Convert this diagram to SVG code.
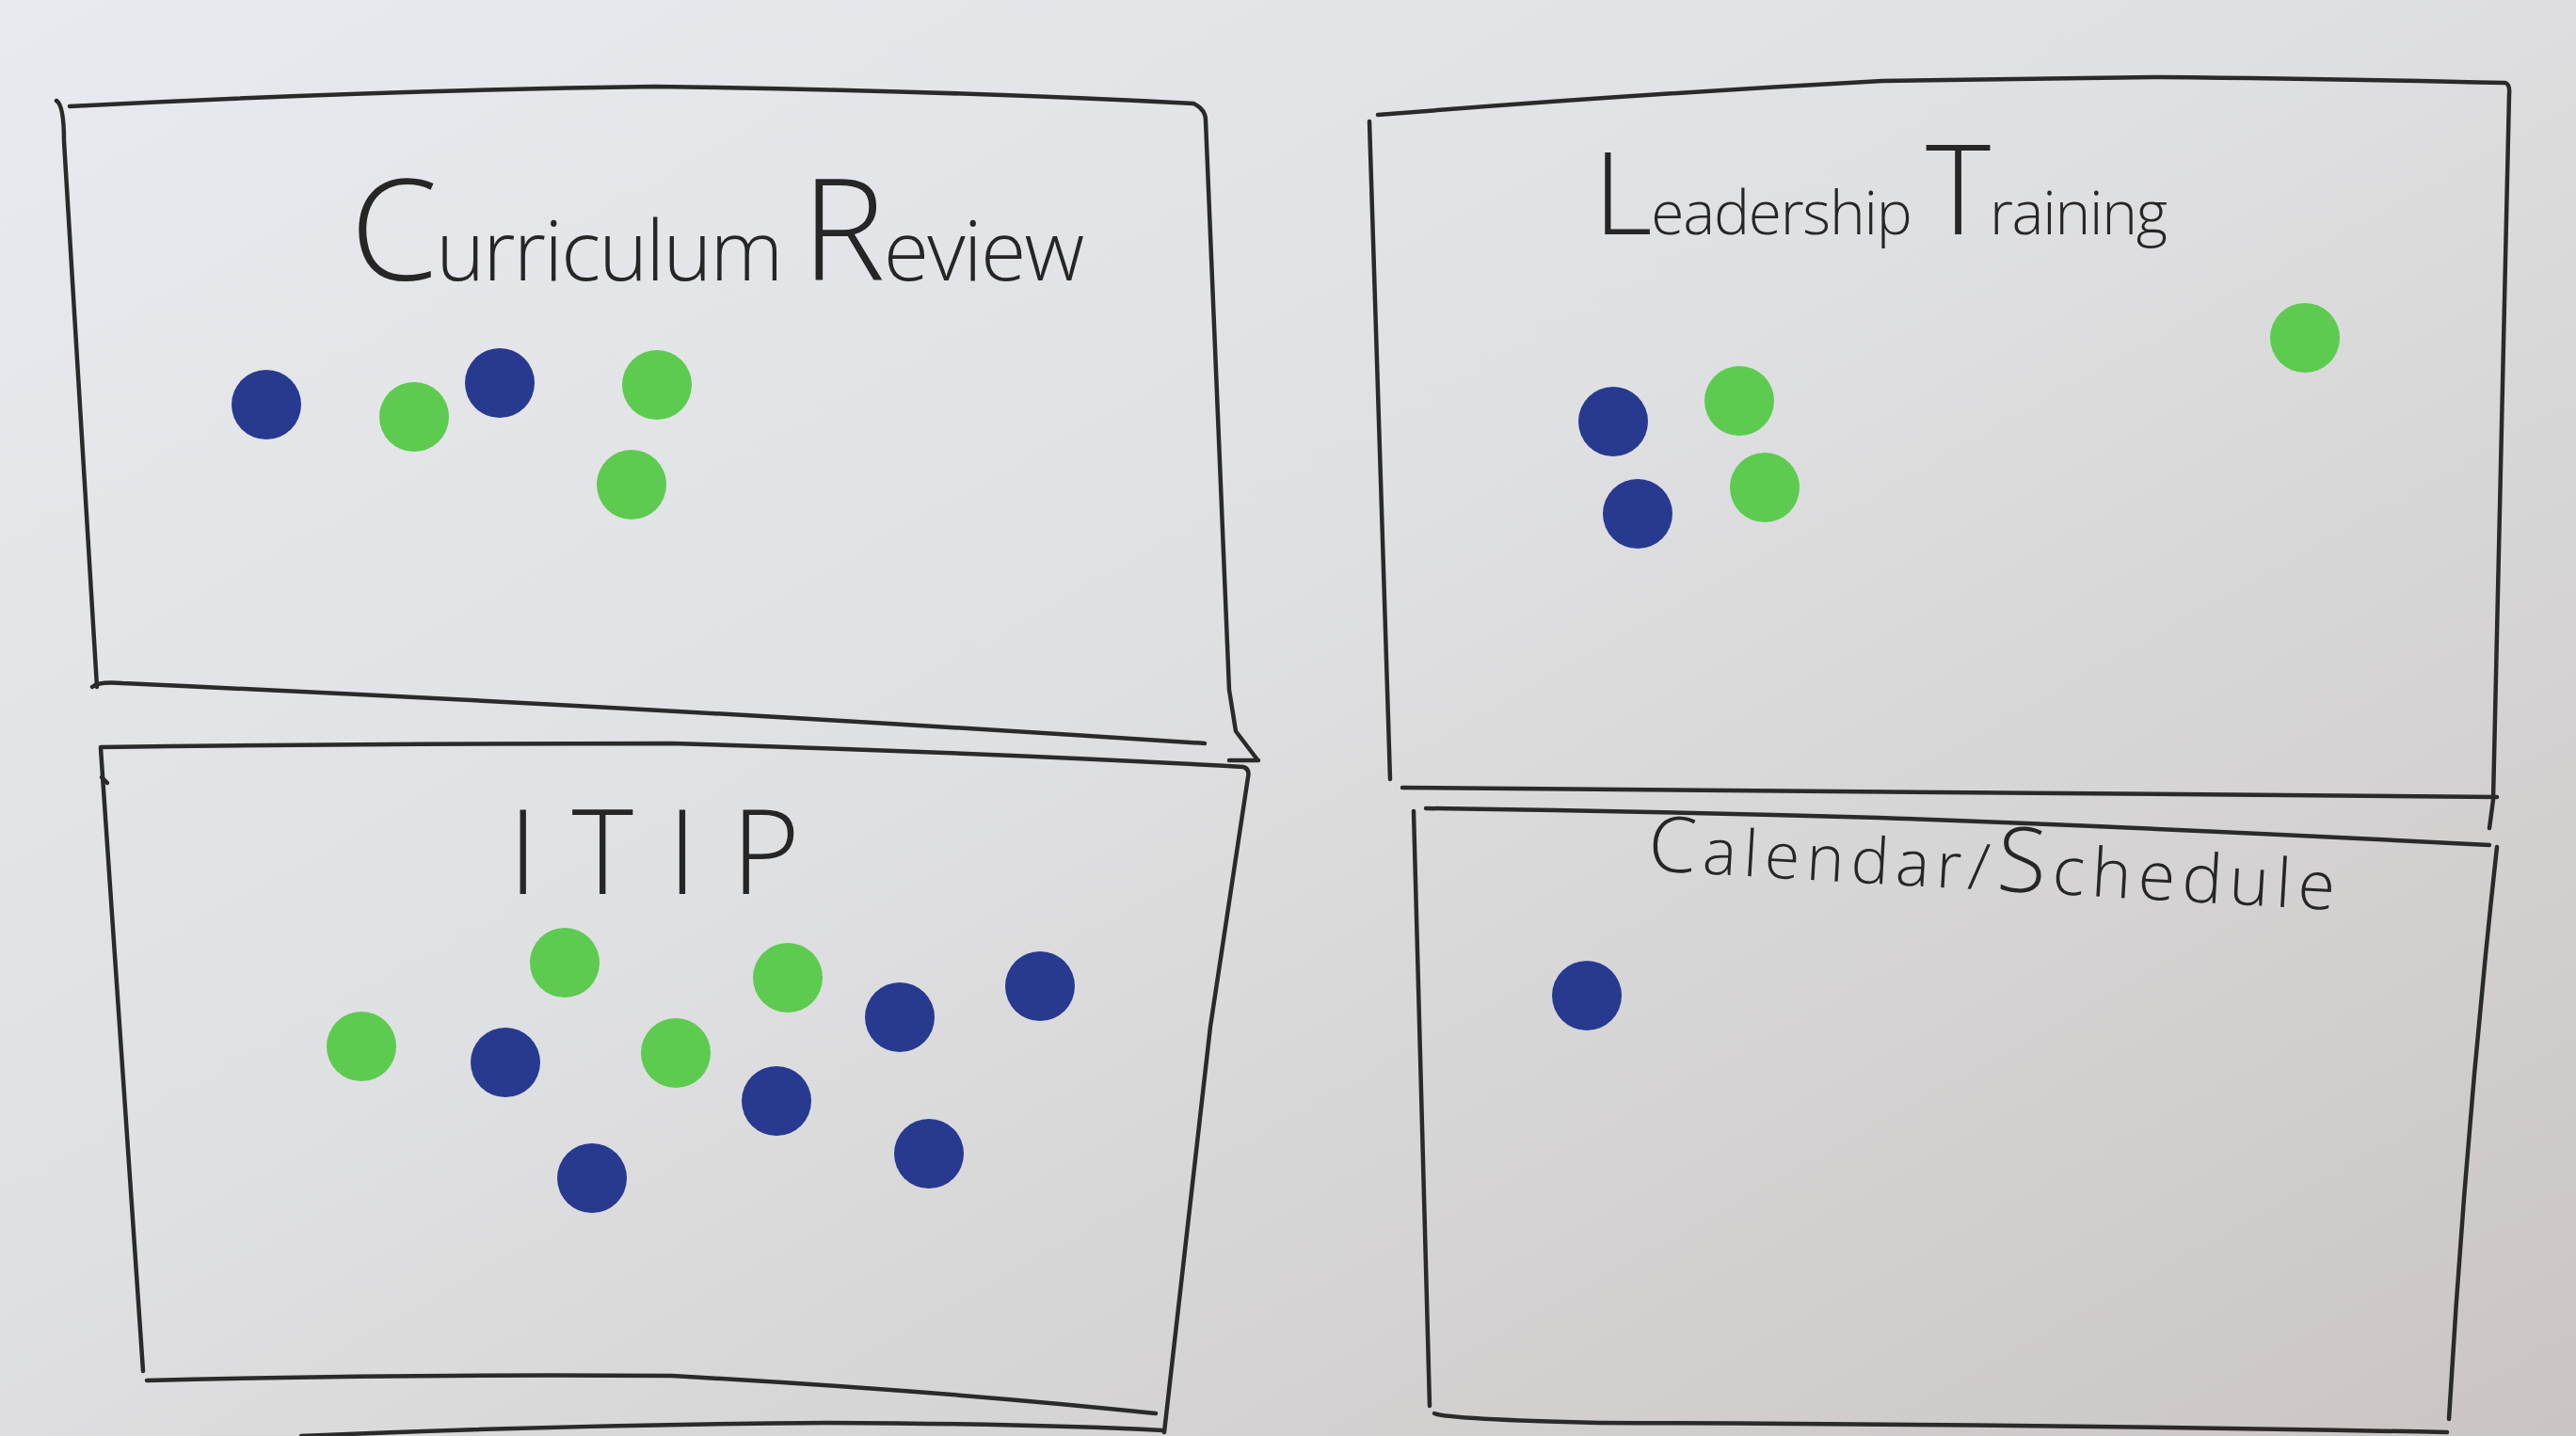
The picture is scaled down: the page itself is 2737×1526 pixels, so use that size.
<svg xmlns="http://www.w3.org/2000/svg" width="2737" height="1526" viewBox="0 0 2737 1526">
  <defs>
    <linearGradient id="paper" x1="0" y1="0" x2="1" y2="1">
      <stop offset="0" stop-color="#e8eaef"/>
      <stop offset="0.45" stop-color="#dfe0e2"/>
      <stop offset="1" stop-color="#cac5c3"/>
    </linearGradient>
    <style>
      .pen { fill: none; stroke: #2a2a2a; stroke-width: 4.5; stroke-linecap: round; stroke-linejoin: round; }
      .hand { font-family: "Open Sans", "Liberation Sans", sans-serif; font-weight: 300; fill: #262626; }
      .blue { fill: #283a8f; }
      .green { fill: #5ccb4f; }
    </style>
  </defs>

  <!-- flip-chart paper -->
  <rect x="0" y="0" width="2737" height="1526" fill="url(#paper)"/>

  <!-- panel: Curriculum Review -->
  <g id="curriculum-review">
    <path class="pen" d="M60 107 Q68 112 68 150 L103 730"/>
    <path class="pen" d="M74 113 Q400 96 696 92 Q1000 96 1268 110 Q1281 116 1281 128 L1306 733 L1313 777 L1335 806"/>
    <path class="pen" d="M1306 808 L1337 808"/>
    <path class="pen" d="M98 730 Q104 724 130 726 Q700 752 1280 790"/>
    <text class="hand" x="372" y="298" textLength="780" lengthAdjust="spacing"><tspan font-size="150">C</tspan><tspan font-size="88">urriculum </tspan><tspan font-size="150">R</tspan><tspan font-size="88">eview</tspan></text>
    <circle class="blue" cx="283" cy="430" r="37"/>
    <circle class="green" cx="440" cy="443" r="37"/>
    <circle class="blue" cx="531" cy="407" r="37"/>
    <circle class="green" cx="698" cy="409" r="37"/>
    <circle class="green" cx="671" cy="515" r="37"/>
  </g>

  <!-- panel: Leadership Training -->
  <g id="leadership-training">
    <path class="pen" d="M1464 122 Q1740 100 2000 86 L2295 82 Q2500 84 2662 88 Q2667 90 2666 100 L2649 850 L2645 880"/>
    <path class="pen" d="M1455 129 L1477 828"/>
    <path class="pen" d="M1490 837 Q2000 842 2653 847"/>
    <text class="hand" x="1693" y="249" textLength="610" lengthAdjust="spacing"><tspan font-size="122">L</tspan><tspan font-size="64">eadership </tspan><tspan font-size="132">T</tspan><tspan font-size="64">raining</tspan></text>
    <circle class="green" cx="2449" cy="359" r="37"/>
    <circle class="blue" cx="1714" cy="448" r="37"/>
    <circle class="green" cx="1848" cy="426" r="37"/>
    <circle class="green" cx="1875" cy="518" r="37"/>
    <circle class="blue" cx="1740" cy="546" r="37"/>
  </g>

  <!-- panel: ITIP -->
  <g id="itip">
    <path class="pen" d="M107 794 Q400 790 714 790 Q1050 800 1321 815 Q1328 817 1326 826 Q1300 1000 1286 1091 L1237 1522"/>
    <path class="pen" d="M107 795 L152 1457"/>
    <path class="pen" d="M108 826 L114 832"/>
    <path class="pen" d="M156 1467 Q420 1460 714 1462 Q1000 1478 1228 1502"/>
    <path class="pen" d="M320 1526 Q600 1514 880 1512 Q1100 1513 1235 1520"/>
    <text class="hand" x="540" y="950" font-size="125" textLength="310" lengthAdjust="spacing">ITIP</text>
    <circle class="green" cx="600" cy="1023" r="37"/>
    <circle class="green" cx="837" cy="1039" r="37"/>
    <circle class="blue" cx="1105" cy="1048" r="37"/>
    <circle class="blue" cx="956" cy="1081" r="37"/>
    <circle class="green" cx="384" cy="1112" r="37"/>
    <circle class="blue" cx="537" cy="1129" r="37"/>
    <circle class="green" cx="718" cy="1119" r="37"/>
    <circle class="blue" cx="825" cy="1170" r="37"/>
    <circle class="blue" cx="987" cy="1226" r="37"/>
    <circle class="blue" cx="629" cy="1252" r="37"/>
  </g>

  <!-- panel: Calendar/Schedule -->
  <g id="calendar-schedule">
    <path class="pen" d="M1515 859 Q1760 862 1997 869 Q2300 880 2645 898"/>
    <path class="pen" d="M1502 862 L1519 1494"/>
    <path class="pen" d="M2653 900 Q2620 1200 2602 1508"/>
    <path class="pen" d="M1524 1502 Q1540 1508 1700 1512 Q2200 1514 2600 1522"/>
    <text class="hand" x="1750" y="925" transform="rotate(3.3 1750 925)" textLength="731" lengthAdjust="spacing"><tspan font-size="82">C</tspan><tspan font-size="68">alendar/</tspan><tspan font-size="96">S</tspan><tspan font-size="72">chedule</tspan></text>
    <circle class="blue" cx="1686" cy="1058" r="37"/>
  </g>
</svg>
